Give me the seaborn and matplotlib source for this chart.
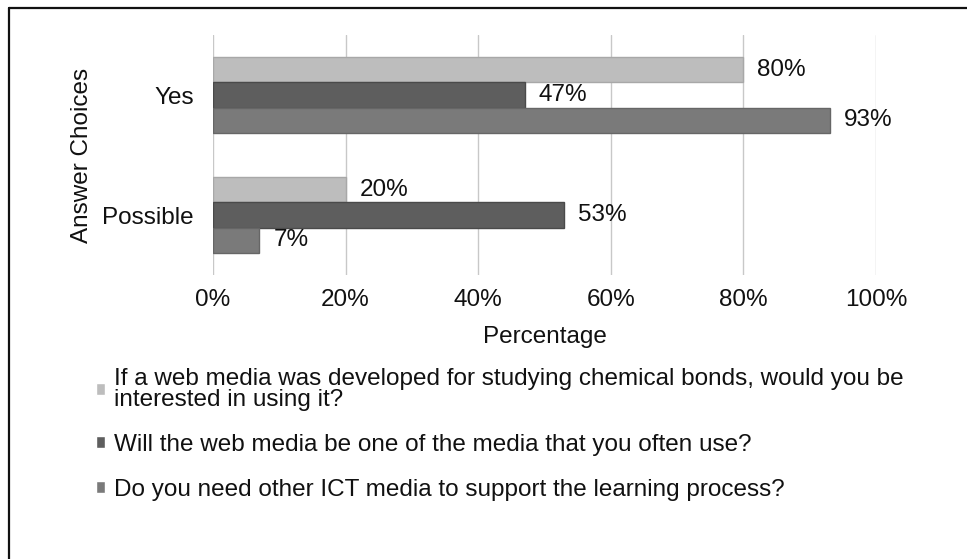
import matplotlib
matplotlib.use("Agg")
import matplotlib.pyplot as plt
import seaborn as sns
import pandas as pd
from matplotlib.lines import Line2D

categories = ["Yes", "Possible"]
questions = [
    "If a web media was developed for studying chemical bonds, would you be\ninterested in using it?",
    "Will the web media be one of the media that you often use?",
    "Do you need other ICT media to support the learning process?",
]
q1_values = [80, 20]
q2_values = [47, 53]
q3_values = [93, 7]
x_ticks = [0, 20, 40, 60, 80, 100]
x_tick_labels = ["0%", "20%", "40%", "60%", "80%", "100%"]

colors = ["#bdbdbd", "#5e5e5e", "#7a7a7a"]
edges = ["#a8a8a8", "#4a4a4a", "#666666"]

rows = []
for q, vals in zip(questions, [q1_values, q2_values, q3_values]):
    for c, v in zip(categories, vals):
        rows.append({"Answer Choices": c, "Question": q, "Percentage": v})
df = pd.DataFrame(rows)

sns.set_theme(style="white")
plt.rcParams["font.family"] = ["Liberation Sans", "DejaVu Sans"]
FS = 17.5

fig = plt.figure(figsize=(9.67, 5.59), dpi=100)
ax = fig.add_axes([213 / 967, 1 - 275 / 559, 663 / 967, 240 / 559])

sns.barplot(data=df, y="Answer Choices", x="Percentage", hue="Question",
            hue_order=questions, order=categories, palette=colors,
            orient="h", width=0.63, gap=0, ax=ax, errorbar=None,
            linewidth=1.0, saturation=1)

for i, cont in enumerate(ax.containers):
    for p in cont.patches:
        p.set_edgecolor(edges[i])
    ax.bar_label(cont, fmt="%d%%", padding=10, fontsize=FS, color="#111111")

ax.set_xlim(0, 100)
ax.set_ylim(1.5, -0.5)
ax.set_xticks(x_ticks)
ax.set_xticklabels(x_tick_labels, fontsize=FS, color="#111111")
ax.tick_params(axis="x", length=0, pad=10)
ax.tick_params(axis="y", length=0, labelsize=FS, labelcolor="#111111", pad=14)
ax.xaxis.grid(True, color="#c8c8c8", linewidth=1.0)
ax.yaxis.grid(False)
ax.set_axisbelow(True)
for s in ax.spines.values():
    s.set_visible(False)

ax.set_xlabel("Percentage", fontsize=FS, color="#111111", labelpad=11)
ax.set_ylabel("Answer Choices", fontsize=FS, color="#111111")
ax.yaxis.set_label_coords(-0.181, 0.5)

handles, labels = ax.get_legend_handles_labels()
ax.get_legend().remove()
leg = fig.legend(handles, labels, loc="upper left",
                 bbox_to_anchor=(96 / 967, 1 - 368 / 559),
                 frameon=False, fontsize=FS, handlelength=0.38, handleheight=0.38,
                 handletextpad=0.38, labelspacing=0.95, borderpad=0,
                 borderaxespad=0, labelcolor="#111111")
for t in leg.get_texts():
    t.set_linespacing(0.92)

fig.add_artist(Line2D([9 / 967, 1.0], [1 - 8 / 559, 1 - 8 / 559],
                      transform=fig.transFigure, color="#111111", linewidth=1.6))
fig.add_artist(Line2D([9 / 967, 9 / 967], [0.0, 1 - 8 / 559],
                      transform=fig.transFigure, color="#111111", linewidth=1.6))

fig.savefig("out.png", dpi=100, facecolor="white")
